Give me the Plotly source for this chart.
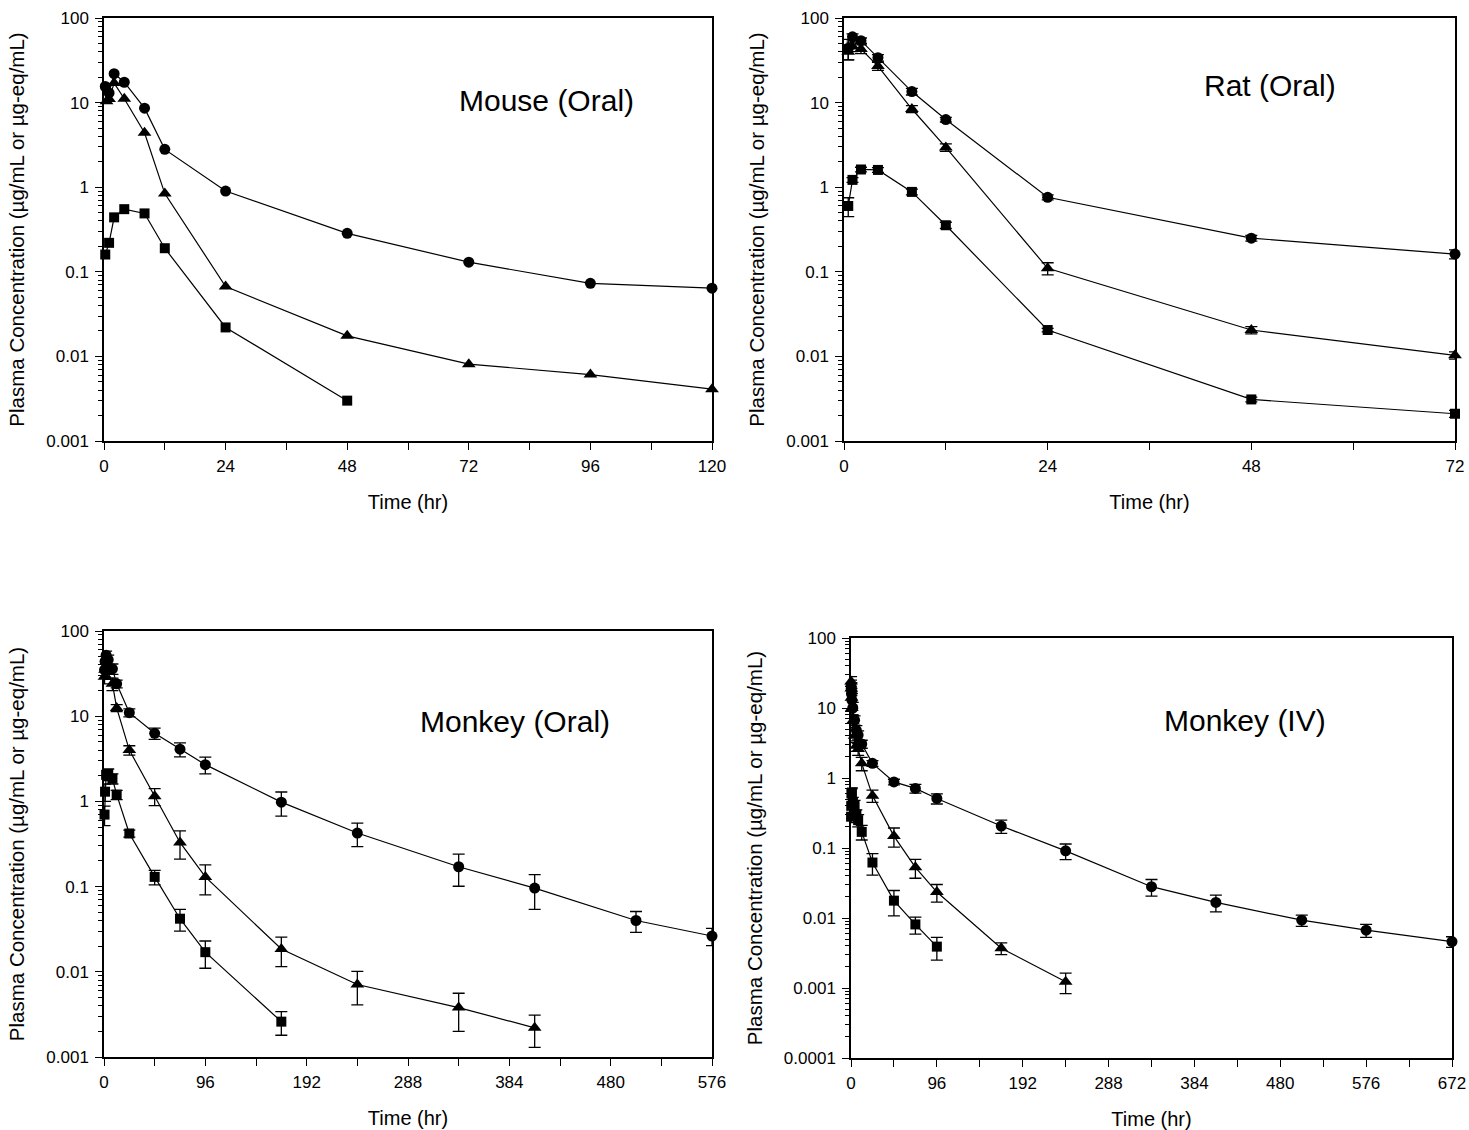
import plotly.graph_objects as go

# ---------------- DATA ----------------
# Mouse (Oral)
mouse_circ_t = [0.25, 1, 2, 4, 8, 12, 24, 48, 72, 96, 120]
mouse_circ_v = [15.5, 13.0, 22.0, 17.4, 8.6, 2.8, 0.90, 0.285, 0.13, 0.073, 0.064]
mouse_tri_t = [0.5, 1, 2, 4, 8, 12, 24, 48, 72, 96, 120]
mouse_tri_v = [10.4, 11.0, 17.0, 11.1, 4.4, 0.84, 0.067, 0.0175, 0.0081, 0.0061, 0.0041]
mouse_sq_t = [0.25, 1, 2, 4, 8, 12, 24, 48]
mouse_sq_v = [0.16, 0.22, 0.44, 0.55, 0.49, 0.19, 0.022, 0.0030]

# Rat (Oral)
rat_circ_t = [0.5, 1, 2, 4, 8, 12, 24, 48, 72]
rat_circ_v = [44, 60, 54, 34, 13.5, 6.3, 0.76, 0.25, 0.162]
rat_circ_e = [12, 5, 4, 3, 1.2, 0.4, 0.05, 0.02, 0.02]
rat_tri_t = [0.5, 1, 2, 4, 8, 12, 24, 48, 72]
rat_tri_v = [40, 46, 43, 27, 8.4, 2.95, 0.11, 0.0205, 0.0103]
rat_tri_e = [8, 6, 5, 3, 0.8, 0.3, 0.018, 0.002, 0.001]
rat_sq_t = [0.5, 1, 2, 4, 8, 12, 24, 48, 72]
rat_sq_v = [0.60, 1.22, 1.62, 1.60, 0.88, 0.355, 0.0205, 0.0031, 0.0021]
rat_sq_e = [0.15, 0.08, 0.1, 0.1, 0.07, 0.03, 0.001, 0.0002, 0.0002]

# Monkey (Oral)
mko_circ_t = [0.5, 1, 2, 4, 8, 12, 24, 48, 72, 96, 168, 240, 336, 408, 504, 576]
mko_circ_v = [35, 44, 52, 46, 36, 24, 11.0, 6.3, 4.1, 2.7, 0.98, 0.425, 0.171, 0.096, 0.040, 0.0263]
mko_circ_e = [8, 8, 6, 6, 5, 2.5, 1.2, 0.95, 0.77, 0.6, 0.31, 0.13, 0.07, 0.042, 0.011, 0.006]
mko_tri_t = [0.5, 1, 2, 4, 8, 12, 24, 48, 72, 96, 168, 240, 336, 408]
mko_tri_v = [29, 35, 38, 33, 24, 12.5, 4.0, 1.15, 0.33, 0.13, 0.0185, 0.0071, 0.0038, 0.0022]
mko_tri_e = [5, 6, 6, 5, 4, 1.2, 0.5, 0.26, 0.12, 0.05, 0.007, 0.003, 0.0018, 0.0009]
mko_sq_t = [0.5, 1, 2, 4, 8, 12, 24, 48, 72, 96, 168]
mko_sq_v = [0.70, 1.3, 2.05, 2.1, 1.85, 1.2, 0.42, 0.13, 0.042, 0.017, 0.0026]
mko_sq_e = [0.18, 0.3, 0.3, 0.3, 0.25, 0.15, 0.04, 0.025, 0.012, 0.006, 0.0008]

# Monkey (IV)
mkv_circ_t = [0.083, 0.25, 0.5, 1, 2, 4, 6, 8, 12, 24, 48, 72, 96, 168, 240, 336, 408, 504, 576, 672]
mkv_circ_v = [21, 19, 16, 13, 10, 6.7, 4.8, 4.1, 3.06, 1.62, 0.88, 0.71, 0.51, 0.206, 0.091, 0.028, 0.0167, 0.0093, 0.0067, 0.0046]
mkv_circ_e = [4, 4, 3, 3, 2, 1, 0.8, 0.6, 0.4, 0.15, 0.08, 0.1, 0.085, 0.044, 0.023, 0.0075, 0.0045, 0.0017, 0.0014, 0.0008]
mkv_tri_t = [0.083, 0.25, 0.5, 1, 2, 4, 6, 8, 12, 24, 48, 72, 96, 168, 240]
mkv_tri_v = [24, 19, 14, 10, 6.5, 4.0, 2.9, 2.6, 1.62, 0.56, 0.148, 0.053, 0.0235, 0.0037, 0.00123]
mkv_tri_e = [4, 4, 3, 2, 1.2, 0.8, 0.5, 0.5, 0.35, 0.11, 0.045, 0.016, 0.0066, 0.0007, 0.0004]
mkv_sq_t = [0.083, 0.25, 0.5, 1, 2, 4, 6, 8, 12, 24, 48, 72, 96]
mkv_sq_v = [0.28, 0.40, 0.60, 0.62, 0.45, 0.41, 0.30, 0.25, 0.17, 0.062, 0.0177, 0.0081, 0.0039]
mkv_sq_e = [0.05, 0.08, 0.1, 0.1, 0.08, 0.07, 0.05, 0.05, 0.04, 0.021, 0.007, 0.0022, 0.0014]

# Tick labels
ytick_vals_3 = [0.001, 0.01, 0.1, 1, 10, 100]
ytick_text_3 = ["0.001", "0.01", "0.1", "1", "10", "100"]
ytick_vals_4 = [0.0001, 0.001, 0.01, 0.1, 1, 10, 100]
ytick_text_4 = ["0.0001", "0.001", "0.01", "0.1", "1", "10", "100"]

panel_titles = ["Mouse (Oral)", "Rat (Oral)", "Monkey (Oral)", "Monkey (IV)"]
x_title = "Time (hr)"
y_title = "Plasma Concentration (µg/mL or µg-eq/mL)"

FONT = "Liberation Sans, Arial, sans-serif"
W, H = 1469, 1130
OFF = 0  # body margin removed by post_script below

fig = go.Figure()


def add_series(xa, ya, t, v, symbol, size, err=None):
    kw = {}
    if err is not None:
        kw["error_y"] = dict(type="data", array=err, visible=True, color="black",
                             thickness=1.3, width=6)
    fig.add_trace(go.Scatter(
        x=t, y=v, mode="lines+markers", xaxis=xa, yaxis=ya,
        line=dict(color="black", width=1.2),
        marker=dict(symbol=symbol, size=size, color="black"),
        cliponaxis=False, showlegend=False, **kw))


panels = [
    ("x", "y", [(mouse_circ_t, mouse_circ_v, None), (mouse_tri_t, mouse_tri_v, None), (mouse_sq_t, mouse_sq_v, None)]),
    ("x2", "y2", [(rat_circ_t, rat_circ_v, rat_circ_e), (rat_tri_t, rat_tri_v, rat_tri_e), (rat_sq_t, rat_sq_v, rat_sq_e)]),
    ("x3", "y3", [(mko_circ_t, mko_circ_v, mko_circ_e), (mko_tri_t, mko_tri_v, mko_tri_e), (mko_sq_t, mko_sq_v, mko_sq_e)]),
    ("x4", "y4", [(mkv_circ_t, mkv_circ_v, mkv_circ_e), (mkv_tri_t, mkv_tri_v, mkv_tri_e), (mkv_sq_t, mkv_sq_v, mkv_sq_e)]),
]
symbols = [("circle", 11), ("triangle-up", 12), ("square", 10)]
for xa, ya, series in panels:
    for (t, v, e), (sym, sz) in zip(series, symbols):
        add_series(xa, ya, t, v, sym, sz, e)


def px_dom_x(a, b):
    return [(a - OFF) / W, (b - OFF) / W]


def px_dom_y(top, bottom):
    return [1 - (bottom - OFF) / H, 1 - (top - OFF) / H]


axis_common = dict(showline=True, linecolor="black", linewidth=1.5, mirror=True,
                   ticks="outside", tickcolor="black", tickwidth=1.2, ticklen=7,
                   showgrid=False, zeroline=False, automargin=False,
                   tickfont=dict(family=FONT, size=17, color="black"))

layouts = [
    # (xdom, ydom, xrange, xdtick, xminor, ytv, ytt, yrange)
    (px_dom_x(104, 712), px_dom_y(18, 441), [0, 120], 24, 12, ytick_vals_3, ytick_text_3, [-3, 2]),
    (px_dom_x(844, 1455), px_dom_y(18, 441), [0, 72], 24, 12, ytick_vals_3, ytick_text_3, [-3, 2]),
    (px_dom_x(104, 712), px_dom_y(631, 1057), [0, 576], 96, 48, ytick_vals_3, ytick_text_3, [-3, 2]),
    (px_dom_x(851, 1452), px_dom_y(638, 1058), [0, 672], 96, 48, ytick_vals_4, ytick_text_4, [-4, 2]),
]

lay = {}
for i, (xd, yd, xr, xdt, xmn, ytv, ytt, yr) in enumerate(layouts):
    sx = "" if i == 0 else str(i + 1)
    lay["xaxis" + sx] = dict(axis_common, domain=xd, range=xr, tick0=0, dtick=xdt,
                             anchor="y" + sx, ticklabelstandoff=2,
                             minor=dict(dtick=xmn, tick0=0, ticks="outside", ticklen=7,
                                        tickcolor="black", tickwidth=1.2),
                             title=dict(text=x_title, standoff=20,
                                        font=dict(family=FONT, size=20, color="black")))
    lay["yaxis" + sx] = dict(axis_common, domain=yd, type="log", range=yr,
                             anchor="x" + sx, tickmode="array", tickvals=ytv, ticktext=ytt,
                             ticklabelstandoff=3,
                             minor=dict(dtick="D1", ticks="outside", ticklen=4,
                                        tickcolor="black", tickwidth=1),
                             title=dict(text=y_title, standoff=16,
                                        font=dict(family=FONT, size=20.5, color="black")))

annots = []
title_pos = [(546, 100), (1270, 85), (515, 722), (1245, 720)]
for txt, (px, py) in zip(panel_titles, title_pos):
    annots.append(dict(text=txt, x=(px - OFF) / W, y=1 - (py - OFF) / H,
                       xref="paper", yref="paper",
                       showarrow=False, xanchor="center", yanchor="middle",
                       font=dict(family=FONT, size=30, color="black")))

fig.update_layout(width=W, height=H, margin=dict(l=0, r=0, t=0, b=0),
                  paper_bgcolor="white", plot_bgcolor="white",
                  font=dict(family=FONT, color="black"),
                  annotations=annots, **lay)

fig.write_html("out.html", config={"displayModeBar": False},
               post_script="document.body.style.margin='0';document.body.style.overflow='hidden';")
